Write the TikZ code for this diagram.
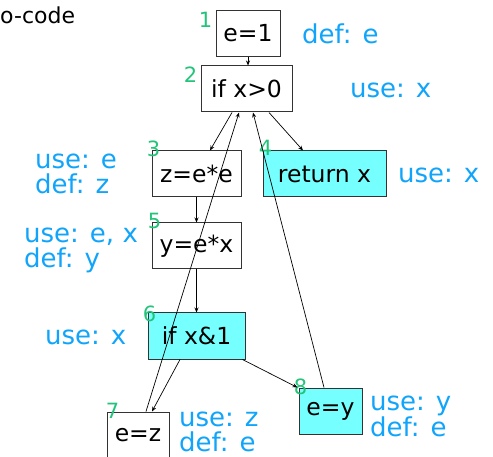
\documentclass[tikz,border=0pt]{standalone}
\usepackage{fontspec}
\setmainfont{DejaVu Sans}
\usepackage{tikz}
\usetikzlibrary{arrows.meta,positioning}
\definecolor{stmtfill}{RGB}{118,255,255}
\definecolor{dublue}{RGB}{16,164,250}
\definecolor{idgreen}{RGB}{34,196,122}

\begin{document}
\begin{tikzpicture}[x=1pt,y=-1pt,>={Stealth[length=5pt,width=4pt]},
  stmt/.style={draw=black!80,line width=1pt,minimum height=46pt,inner sep=0pt,
  font=\fontsize{23.5}{24}\selectfont},
  live/.style={stmt,fill=stmtfill},
  num/.style={text=idgreen,inner sep=0pt,font=\fontsize{21}{21}\selectfont},
  du/.style={text=dublue,anchor=west,align=left,inner sep=0pt,
  font=\fontsize{26}{25}\selectfont},
  flow/.style={->,line width=.7pt}]
  \useasboundingbox (0,0) rectangle (493,457);
  \node[anchor=west,inner sep=0pt,font=\fontsize{22}{22}\selectfont] (title) at (0,15) {o-code};
  % basic blocks
  \node[stmt,minimum width=64pt] (n1) at (248,33.5) {e=1};
  \node[stmt,minimum width=91pt] (n2) at (246.5,89) {if x>0};
  \node[stmt,minimum width=89pt] (n3) at (196.5,174) {z=e*e};
  \node[live,minimum width=123pt] (n4) at (324.5,174) {return x};
  \node[stmt,minimum width=89pt] (n5) at (196.5,246) {y=e*x};
  \node[live,minimum width=97pt] (n6) at (196.5,336) {if x\&1};
  \node[stmt,minimum width=62pt] (n7) at (138,435) {e=z};
  \node[live,minimum width=63pt] (n8) at (330.5,411) {e=y};
  % statement numbers
  \node[num,anchor=north east] (k1) at ([xshift=-3pt,yshift=-2pt]n1.north west) {1};
  \node[num,anchor=north east] (k2) at ([xshift=-3pt,yshift=-1pt]n2.north west) {2};
  \node[num] (k3) at ([xshift=2pt,yshift=2pt]n3.north west) {3};
  \node[num] (k4) at ([xshift=3pt,yshift=3pt]n4.north west) {4};
  \node[num] (k5) at ([xshift=3pt,yshift=2pt]n5.north west) {5};
  \node[num] (k6) at ([xshift=2pt,yshift=-1pt]n6.north west) {6};
  \node[num] (k7) at ([xshift=6pt,yshift=1pt]n7.north west) {7};
  \node[num] (k8) at ([xshift=2pt,yshift=1pt]n8.north west) {8};
  % use/def sets
  \node[du] (d1) at (302,34) {def: e};
  \node[du] (d2) at (350,90) {use: x};
  \node[du] (d3) at (35,174) {use: e\\def: z};
  \node[du] (d4) at (398,175) {use: x};
  \node[du] (d5) at (24,250) {use: e, x\\def: y};
  \node[du] (d6) at (45,337) {use: x};
  \node[du] (d7) at (179,432) {use: z\\def: e};
  \node[du] (d8) at (370,416) {use: y\\def: e};
  % control flow
  \draw[flow] (n1.south) -- (n1.south |- n2.north);
  \draw[flow] ([xshift=-14.5pt]n2.south) -- ([xshift=13.5pt]n3.north);
  \draw[flow] ([xshift=22.5pt]n2.south) -- ([xshift=-21.5pt]n4.north);
  \draw[flow] (n3.south) -- (n5.north);
  \draw[flow] (n5.south) -- (n6.north);
  \draw[flow] ([xshift=-16.5pt]n6.south) -- ([xshift=14pt]n7.north);
  \draw[flow] ([xshift=-3pt]n6.south east) -- ([xshift=-1pt]n8.north west);
  \draw[flow] ([xshift=8pt]n7.north) -- ([xshift=-7.5pt]n2.south);
  \draw[flow] ([xshift=-6.5pt]n8.north) -- ([xshift=6.5pt]n2.south);
\end{tikzpicture}
\end{document}
